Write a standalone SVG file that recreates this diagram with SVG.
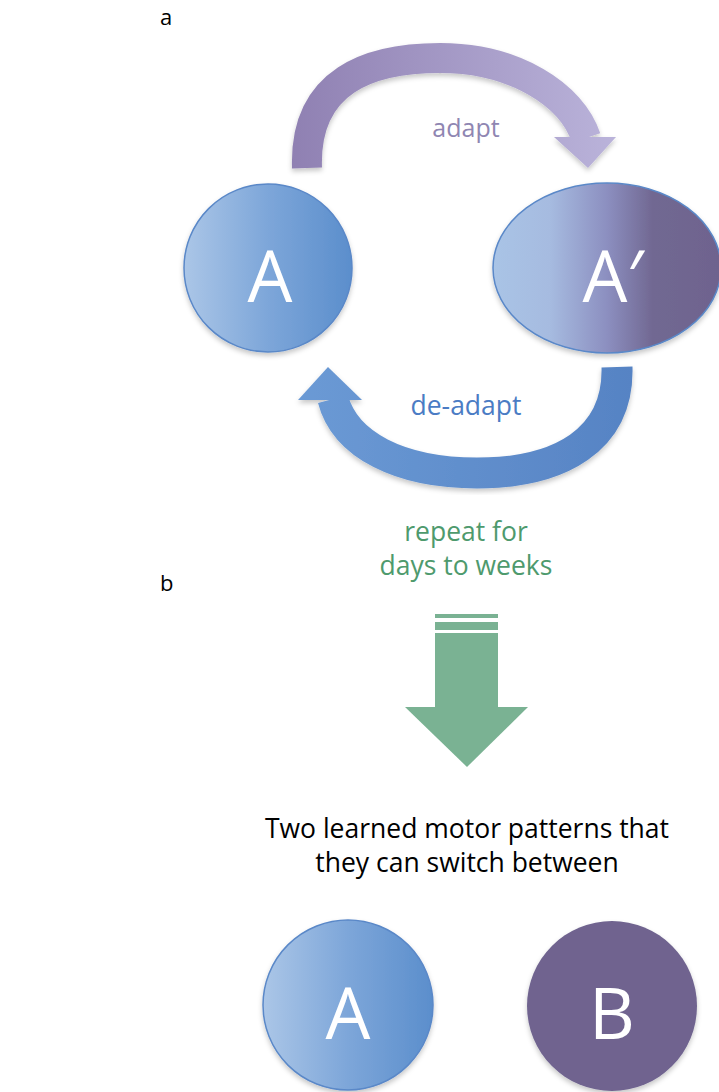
<svg xmlns="http://www.w3.org/2000/svg" width="719" height="1092" viewBox="0 0 719 1092">
<defs>
<style>
.lbl{font-family:"Open Sans","Liberation Sans",sans-serif;text-anchor:middle}
.node-text{font-family:"Open Sans","Liberation Sans",sans-serif;font-size:71px;fill:#ffffff;text-anchor:middle}
.panel{font-family:"Open Sans","Liberation Sans",sans-serif;font-size:22px;fill:#000}
</style>
<linearGradient id="gA" x1="0" y1="0" x2="1" y2="0">
<stop offset="0" stop-color="#abc6e7"/><stop offset="0.5" stop-color="#7da6d9"/><stop offset="1" stop-color="#5b8ecc"/>
</linearGradient>
<linearGradient id="gAp" x1="0" y1="0" x2="1" y2="0">
<stop offset="0" stop-color="#a9c4e6"/><stop offset="0.25" stop-color="#a6bbe0"/><stop offset="0.5" stop-color="#8c8fc0"/><stop offset="0.7" stop-color="#716892"/><stop offset="1" stop-color="#6e638e"/>
</linearGradient>
<linearGradient id="gTop" x1="290" y1="0" x2="615" y2="0" gradientUnits="userSpaceOnUse">
<stop offset="0" stop-color="#8f80b2"/><stop offset="1" stop-color="#bab3da"/>
</linearGradient>
<linearGradient id="gBot" x1="298" y1="0" x2="633" y2="0" gradientUnits="userSpaceOnUse">
<stop offset="0" stop-color="#6b9ad5"/><stop offset="1" stop-color="#5683c4"/>
</linearGradient>
<filter id="sh" x="-20%" y="-20%" width="140%" height="140%">
<feDropShadow dx="0" dy="3" stdDeviation="2.5" flood-color="#000" flood-opacity="0.22"/>
</filter>
</defs>
<rect width="719" height="1092" fill="#ffffff"/>

<text class="panel" x="160" y="25">a</text>
<text class="panel" x="160" y="591">b</text>

<g id="connectors">
<g id="adapt-arrow" filter="url(#sh)">
<path d="M307,168 C304,80 370,58 440,58 C515,58 572,95 586,138" fill="none" stroke="url(#gTop)" stroke-width="30"/>
<polygon points="554,137 616,137 588,168" fill="url(#gTop)"/>
</g>
<g id="deadapt-arrow" filter="url(#sh)">
<path d="M617,367 C619,440 560,473 477,473 C400,473 345,445 333,399" fill="none" stroke="url(#gBot)" stroke-width="31"/>
<polygon points="298,400 362,400 328,367" fill="url(#gBot)"/>
</g>
<g id="repeat-arrow">
<rect x="435" y="614" width="63" height="4" fill="#7ab293"/>
<rect x="435" y="622" width="63" height="8" fill="#7ab293"/>
<rect x="435" y="633" width="63" height="75" fill="#7ab293"/>
<polygon points="405,707 528,707 467,767" fill="#7ab293"/>
</g>
</g>

<text class="lbl" x="466" y="137" font-size="25" fill="#8f86b2">adapt</text>
<text class="lbl" x="466" y="415" font-size="26.5" fill="#4b7cc4">de-adapt</text>
<text class="lbl" x="466" y="541" font-size="26.5" fill="#4e9a6d">repeat for</text>
<text class="lbl" x="466" y="575" font-size="26.5" fill="#4e9a6d">days to weeks</text>

<g id="node-A-top" filter="url(#sh)">
<circle cx="268" cy="268" r="84" fill="url(#gA)" stroke="#5a88c8" stroke-width="1.5"/>
<text class="node-text" x="270" y="302">A</text>
</g>
<g id="node-Aprime" filter="url(#sh)">
<ellipse cx="607" cy="268" rx="114" ry="85" fill="url(#gAp)" stroke="#5a88c8" stroke-width="1.5"/>
<text class="node-text" x="613" y="302">A′</text>
</g>

<text class="lbl" x="467" y="838" font-size="26.5" fill="#000">Two learned motor patterns that</text>
<text class="lbl" x="467" y="872" font-size="26.5" fill="#000">they can switch between</text>

<g id="node-A-bottom" filter="url(#sh)">
<circle cx="348" cy="1005" r="85" fill="url(#gA)" stroke="#5a88c8" stroke-width="1.5"/>
<text class="node-text" x="348" y="1039">A</text>
</g>
<g id="node-B" filter="url(#sh)">
<circle cx="612" cy="1006" r="85" fill="#6f648f"/>
<text class="node-text" x="612" y="1039">B</text>
</g>
</svg>
